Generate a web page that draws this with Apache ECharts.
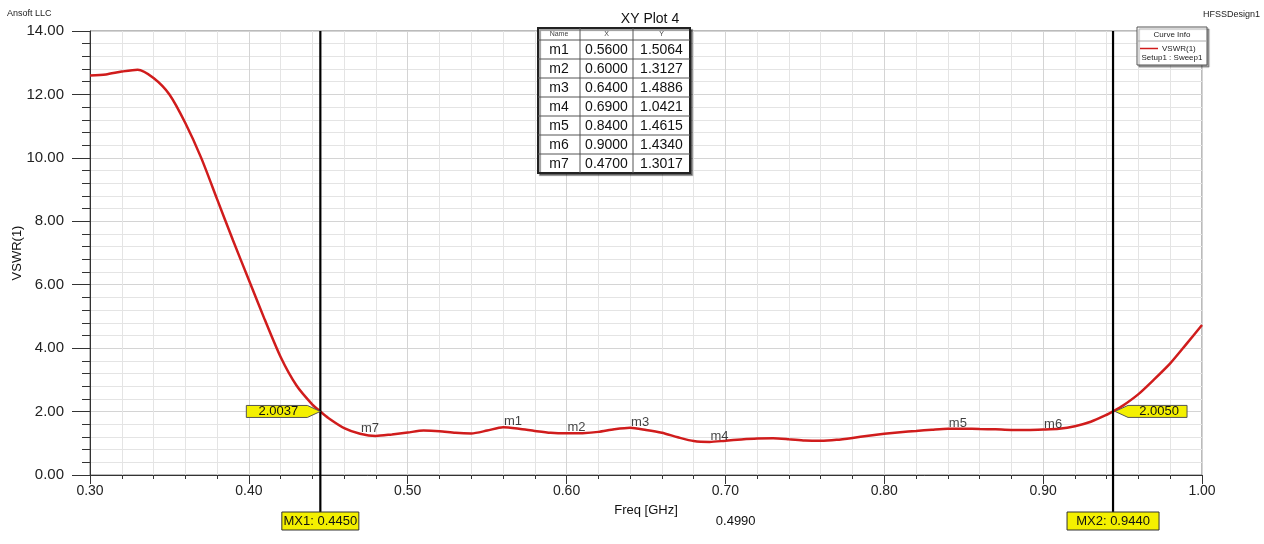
<!DOCTYPE html>
<html>
<head>
<meta charset="utf-8">
<script src="https://cdn.jsdelivr.net/npm/echarts@6/dist/echarts.min.js"></script>
<style>
html,body{margin:0;padding:0;background:#fff;}
#chart{width:1264px;height:544px;}
</style>
</head>
<body>
<div id="chart"></div>
<script>
// ---- data ----
const freq = [0.30,0.31,0.32,0.33,0.34,0.35,0.36,0.37,0.38,0.39,0.40,0.41,0.42,0.43,0.44,0.445,0.45,0.46,0.47,0.48,0.49,0.50,0.51,0.52,0.53,0.54,0.55,0.56,0.57,0.58,0.59,0.60,0.61,0.62,0.63,0.64,0.65,0.66,0.67,0.68,0.69,0.70,0.71,0.72,0.73,0.74,0.75,0.76,0.77,0.78,0.79,0.80,0.81,0.82,0.83,0.84,0.85,0.86,0.87,0.88,0.89,0.90,0.91,0.92,0.93,0.94,0.944,0.95,0.96,0.97,0.98,0.99,1.00];
const vswr = [12.60,12.63,12.72,12.78,12.52,12.00,11.10,10.00,8.70,7.40,6.15,4.90,3.72,2.82,2.22,2.0037,1.80,1.48,1.3017,1.23,1.28,1.34,1.40,1.38,1.33,1.31,1.40,1.5064,1.46,1.39,1.33,1.3127,1.32,1.36,1.44,1.4886,1.42,1.33,1.19,1.07,1.0421,1.08,1.12,1.15,1.16,1.13,1.09,1.08,1.11,1.17,1.24,1.30,1.35,1.39,1.43,1.4615,1.46,1.45,1.44,1.42,1.42,1.434,1.46,1.54,1.68,1.90,2.005,2.18,2.55,3.02,3.52,4.12,4.73];
const markerNames = ['m1','m2','m3','m4','m5','m6','m7'];
const markerX = [0.56,0.60,0.64,0.69,0.84,0.90,0.47];
const markerY = [1.5064,1.3127,1.4886,1.0421,1.4615,1.4340,1.3017];
const mxNames = ['MX1','MX2'];
const mxFreq = [0.445,0.944];
const mxVal = [2.0037,2.0050];
const mxDelta = '0.4990';
const xTicks = {min:0.30,max:1.00,interval:0.10};
const yTicks = {min:0,max:14,interval:2};

const FONT = 'Liberation Sans, Arial, sans-serif';
const chart = echarts.init(document.getElementById('chart'), null, {renderer:'canvas'});

const option = {
  backgroundColor:'#fff',
  animation:false,
  title:{text:'XY Plot 4',left:645,top:7,textAlign:'center',
    textStyle:{fontFamily:FONT,fontSize:14,fontWeight:'normal',color:'#111'}},
  grid:{left:90,right:62,top:31,bottom:69,show:true,borderColor:'#777',borderWidth:1,backgroundColor:'transparent',
    containLabel:false,outerBoundsMode:'none'},
  xAxis:{type:'value',min:xTicks.min,max:xTicks.max,interval:xTicks.interval,
    name:'Freq [GHz]',nameLocation:'middle',nameGap:29,
    nameTextStyle:{fontFamily:FONT,fontSize:13,color:'#111'},
    axisLine:{show:true,onZero:false,lineStyle:{color:'#333',width:1}},
    axisTick:{show:true,length:9,lineStyle:{color:'#333'}},
    minorTick:{show:true,splitNumber:5,length:4,lineStyle:{color:'#333'}},
    axisLabel:{fontFamily:FONT,fontSize:14,color:'#222',margin:9,formatter:v=>v.toFixed(2)},
    splitLine:{show:true,lineStyle:{color:'#d4d4d4',width:1}},
    minorSplitLine:{show:true,lineStyle:{color:'#e4e4e4',width:1}}
  },
  yAxis:{type:'value',min:yTicks.min,max:yTicks.max,interval:yTicks.interval,
    name:'VSWR(1)',nameLocation:'middle',nameGap:66,nameRotate:90,nameMoveOverlap:false,
    nameTextStyle:{fontFamily:FONT,fontSize:13,color:'#111'},
    axisLine:{show:true,lineStyle:{color:'#333',width:1}},
    axisTick:{show:true,length:18,lineStyle:{color:'#333'}},
    minorTick:{show:true,splitNumber:5,length:8,lineStyle:{color:'#333'}},
    axisLabel:{fontFamily:FONT,fontSize:15,color:'#222',margin:26,formatter:v=>v.toFixed(2)},
    splitLine:{show:true,lineStyle:{color:'#d4d4d4',width:1}},
    minorSplitLine:{show:true,lineStyle:{color:'#e4e4e4',width:1}}
  },
  series:[
    {type:'line',data:freq.map((f,i)=>[f,vswr[i]]),smooth:0.25,showSymbol:false,
      lineStyle:{color:'#d01c1c',width:2.5},z:5},
    {type:'scatter',data:markerX.map((x,i)=>({name:markerNames[i],value:[x,markerY[i]]})),
      symbolSize:0,z:6,
      label:{show:true,position:'top',distance:0,offset:[10,1],formatter:p=>p.name,
        fontFamily:FONT,fontSize:13,color:'#111'}}
  ]
};
chart.setOption(option);

function px(x,y){return chart.convertToPixel({gridIndex:0},[x,y]);}
const g = [];
const topY = px(xTicks.min,yTicks.max)[1];
const bottomAxisY = px(xTicks.min,yTicks.min)[1];
const YEL = '#f4f000';

mxFreq.forEach((f,i)=>{
  const p = px(f,mxVal[i]);
  g.push({type:'line',z:20,shape:{x1:p[0],y1:topY,x2:p[0],y2:bottomAxisY+37},style:{stroke:'#000',lineWidth:2.2}});
  const txt = mxNames[i]+': '+f.toFixed(4);
  const w = (i===0)?77:92;
  g.push({type:'rect',z:21,shape:{x:p[0]-w/2,y:bottomAxisY+37,width:w,height:18},style:{fill:YEL,stroke:'#333',lineWidth:1}});
  g.push({type:'text',z:22,style:{x:p[0],y:bottomAxisY+46,text:txt,textAlign:'center',textVerticalAlign:'middle',font:'13px '+FONT,fill:'#111'}});
  const vt = mxVal[i].toFixed(4);
  let pts;
  if(i===0){
    pts=[[p[0],p[1]],[p[0]-13,p[1]-6],[p[0]-74,p[1]-6],[p[0]-74,p[1]+6],[p[0]-13,p[1]+6]];
    g.push({type:'polygon',z:21,shape:{points:pts},style:{fill:YEL,stroke:'#555',lineWidth:1}});
    g.push({type:'text',z:22,style:{x:p[0]-42,y:p[1],text:vt,textAlign:'center',textVerticalAlign:'middle',font:'13px '+FONT,fill:'#111'}});
  } else {
    pts=[[p[0]+2,p[1]],[p[0]+15,p[1]-6],[p[0]+74,p[1]-6],[p[0]+74,p[1]+6],[p[0]+15,p[1]+6]];
    g.push({type:'polygon',z:21,shape:{points:pts},style:{fill:YEL,stroke:'#555',lineWidth:1}});
    g.push({type:'text',z:22,style:{x:p[0]+46,y:p[1],text:vt,textAlign:'center',textVerticalAlign:'middle',font:'13px '+FONT,fill:'#111'}});
  }
});
const mid = (px(mxFreq[0],0)[0]+px(mxFreq[1],0)[0])/2;
g.push({type:'text',z:22,style:{x:mid+19,y:bottomAxisY+46,text:mxDelta,textAlign:'center',textVerticalAlign:'middle',font:'13px '+FONT,fill:'#111'}});

g.push({type:'text',style:{x:7,y:14,text:'Ansoft LLC',textVerticalAlign:'middle',font:'9px '+FONT,fill:'#222'}});
g.push({type:'text',style:{x:1260,y:15,text:'HFSSDesign1',textAlign:'right',textVerticalAlign:'middle',font:'9px '+FONT,fill:'#222'}});

g.push({type:'rect',z:20,shape:{x:1137,y:27,width:70,height:38},style:{fill:'#fff',stroke:'#555',lineWidth:1,shadowColor:'rgba(0,0,0,0.35)',shadowOffsetX:2,shadowOffsetY:2,shadowBlur:1}});
g.push({type:'text',z:21,style:{x:1172,y:35,text:'Curve Info',textAlign:'center',textVerticalAlign:'middle',font:'8px '+FONT,fill:'#222'}});
g.push({type:'line',z:21,shape:{x1:1137,y1:41,x2:1207,y2:41},style:{stroke:'#aaa',lineWidth:1}});
g.push({type:'line',z:21,shape:{x1:1140,y1:48.5,x2:1158,y2:48.5},style:{stroke:'#d01c1c',lineWidth:1.5}});
g.push({type:'text',z:21,style:{x:1162,y:49,text:'VSWR(1)',textVerticalAlign:'middle',font:'8px '+FONT,fill:'#222'}});
g.push({type:'text',z:21,style:{x:1172,y:57.5,text:'Setup1 : Sweep1',textAlign:'center',textVerticalAlign:'middle',font:'8px '+FONT,fill:'#222'}});

const tx=538, ty=28, colX=[538,580,633,690], headH=12, rowH=19;
const th = headH+rowH*markerNames.length;
g.push({type:'rect',z:20,shape:{x:tx,y:ty,width:colX[3]-tx,height:th},style:{fill:'#fff',stroke:'#222',lineWidth:2,shadowColor:'rgba(0,0,0,0.4)',shadowOffsetX:2,shadowOffsetY:2,shadowBlur:1}});
[colX[1],colX[2]].forEach(cx=>g.push({type:'line',z:21,shape:{x1:cx,y1:ty,x2:cx,y2:ty+th},style:{stroke:'#555',lineWidth:1}}));
for(let r=0;r<markerNames.length;r++){
  const yy = ty+headH+rowH*r;
  g.push({type:'line',z:21,shape:{x1:tx,y1:yy,x2:colX[3],y2:yy},style:{stroke:'#555',lineWidth:1}});
}
['Name','X','Y'].forEach((h,j)=>g.push({type:'text',z:22,style:{x:(colX[j]+colX[j+1])/2,y:ty+headH/2+0.5,text:h,textAlign:'center',textVerticalAlign:'middle',font:'7px '+FONT,fill:'#444'}}));
markerNames.forEach((n,r)=>{
  const cy = ty+headH+rowH*r+rowH/2+0.5;
  const vals=[n,markerX[r].toFixed(4),markerY[r].toFixed(4)];
  vals.forEach((v,j)=>g.push({type:'text',z:22,style:{x:(colX[j]+colX[j+1])/2,y:cy,text:v,textAlign:'center',textVerticalAlign:'middle',font:'14px '+FONT,fill:'#111'}}));
});

chart.setOption({graphic:{elements:g}});
</script>
</body>
</html>
